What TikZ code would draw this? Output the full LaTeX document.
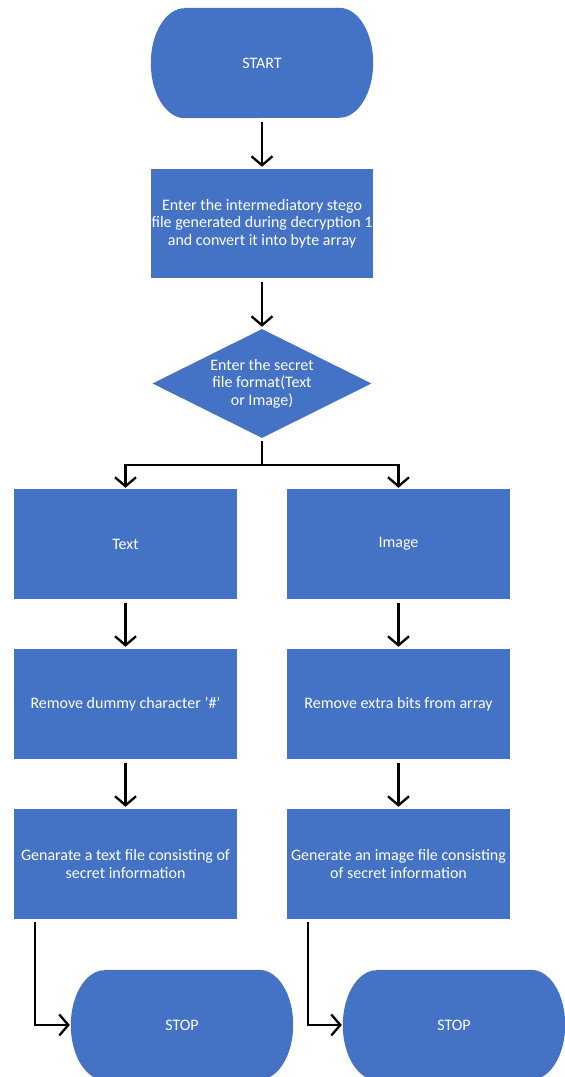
\documentclass[tikz,border=0pt]{standalone}
\usepackage{fontspec}
\setmainfont{Carlito}
\usetikzlibrary{arrows.meta,shapes.geometric,calc}
\definecolor{boxblue}{HTML}{4472C4}
\begin{document}
\begin{tikzpicture}[x=1pt,y=1pt,
  every node/.style={font=\fontsize{16}{17.6}\selectfont, text=white, align=center, inner sep=0pt},
  procbox/.style={rectangle, fill=boxblue, minimum width=223pt, minimum height=110pt},
  termbox/.style={rectangle, minimum width=222pt, minimum height=110pt},
  decbox/.style={diamond, fill=boxblue, aspect=2, minimum width=219pt, minimum height=109pt},
  arr/.style={line width=2.3pt, draw=black, -{Straight Barb[length=9pt,width=21pt,line width=2.3pt]}},
  link/.style={line width=2.3pt, draw=black}
]
\useasboundingbox (0,0) rectangle (565,1077);
\clip (0,0) rectangle (565,1077);

% terminator outline: flat top and bottom, elliptical ends
\newcommand{\termfill}[1]{%
  \fill[boxblue] ($(#1.north west)+(34,0)$) -- ($(#1.north east)+(-34,0)$)
    arc[start angle=90, end angle=-90, x radius=34, y radius=55]
    -- ($(#1.south west)+(34,0)$)
    arc[start angle=270, end angle=90, x radius=34, y radius=55] -- cycle;}

\node[termbox] (start) at (262,1014) {START};
\termfill{start}
\node at (start.center) {START};

\node[procbox, minimum width=222pt, minimum height=109pt] (input) at (262,853.5)
  {Enter the intermediatory stego\\file generated during decryption 1\\and convert it into byte array};

\node[decbox] (fmt) at (262,693.5) {Enter the secret\\file format(Text\\or Image)};

\node[procbox] (txt) at (125.5,533) {Text};
\node[procbox] (img) at (398.5,533) {Image};
\node[procbox] (rmtxt) at (125.5,373) {Remove dummy character \symbol{"27}\#\symbol{"27}};
\node[procbox] (rmimg) at (398.5,373) {Remove extra bits from array};
\node[procbox] (gentxt) at (125.5,213) {Genarate a text file consisting of\\secret information};
\node[procbox] (genimg) at (398.5,213) {Generate an image file consisting\\of secret information};

\node[termbox] (stop1) at (182,52) {STOP};
\termfill{stop1}
\node at (stop1.center) {STOP};
\node[termbox] (stop2) at (454,52) {STOP};
\termfill{stop2}
\node at (stop2.center) {STOP};

% connectors
\draw[arr, shorten <=3.5pt, shorten >=2pt] (start) -- (input);
\draw[arr, shorten <=3.5pt, shorten >=2pt] (input) -- (fmt);
\coordinate (split) at ($(fmt.south)+(0,-27)$);
\draw[link, shorten <=2.5pt] (fmt.south) -- (split);
\draw[arr, shorten >=1pt] ($(split)+(1.15,0)$) -| (txt.north);
\draw[arr, shorten >=1pt] ($(split)-(1.15,0)$) -| (img.north);
\draw[arr, shorten <=3.5pt, shorten >=2pt] (txt) -- (rmtxt);
\draw[arr, shorten <=3.5pt, shorten >=2pt] (img) -- (rmimg);
\draw[arr, shorten <=3.5pt, shorten >=2pt] (rmtxt) -- (gentxt);
\draw[arr, shorten <=3.5pt, shorten >=2pt] (rmimg) -- (genimg);
\coordinate (d1) at ($(gentxt.south west)+(21,-3)$);
\coordinate (d2) at ($(genimg.south west)+(21,-3)$);
\draw[arr, shorten >=1pt] (d1) |- (stop1.west);
\draw[arr, shorten >=1pt] (d2) |- (stop2.west);
\end{tikzpicture}
\end{document}
